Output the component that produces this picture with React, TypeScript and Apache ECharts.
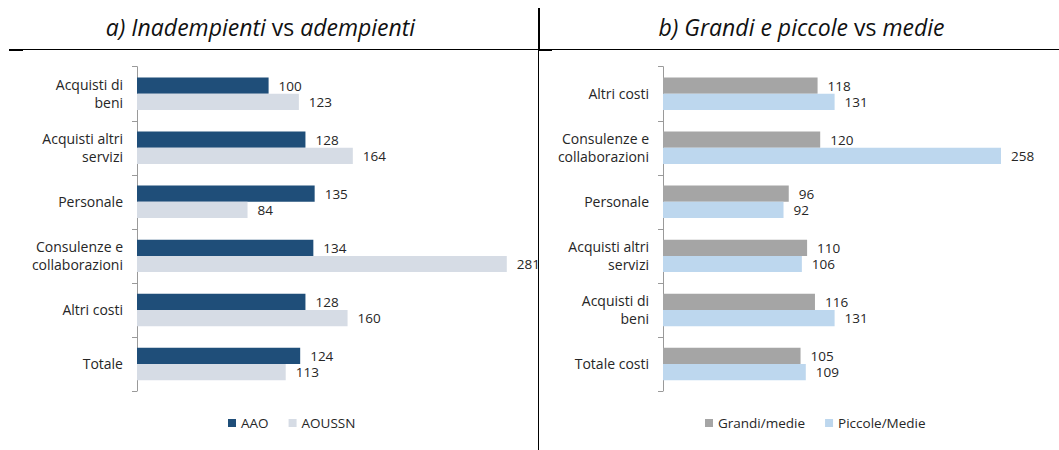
import React, { useEffect, useRef } from "react";
import * as echarts from "echarts";

const leftCategories = [
  "Acquisti di\nbeni",
  "Acquisti altri\nservizi",
  "Personale",
  "Consulenze e\ncollaborazioni",
  "Altri costi",
  "Totale",
];
const leftAAO = [100, 128, 135, 134, 128, 124];
const leftAOUSSN = [123, 164, 84, 281, 160, 113];

const rightCategories = [
  "Altri costi",
  "Consulenze e\ncollaborazioni",
  "Personale",
  "Acquisti altri\nservizi",
  "Acquisti di\nbeni",
  "Totale costi",
];
const rightGrandi = [118, 120, 96, 110, 116, 105];
const rightPiccole = [131, 258, 92, 106, 131, 109];

const FONT = "'Open Sans', sans-serif";
const TXT = "#262626";

type PanelCfg = {
  categories: string[];
  names: [string, string];
  values: [number[], number[]];
  colors: [string, string];
  gridLeft: number;
  gridWidth: number;
  legendLeft: number;
  titleX: number;
  title: string;
  graphics: any[];
};

function buildOption(c: PanelCfg): any {
  const mkSeries = (i: number) => ({
    type: "bar",
    name: c.names[i],
    data: c.values[i],
    barGap: "0%",
    barCategoryGap: "40%",
    itemStyle: { color: c.colors[i] },
    label: {
      show: true,
      position: "right",
      distance: 10,
      color: TXT,
      fontSize: 13.5,
      fontFamily: FONT,
    },
  });
  return {
    animation: false,
    grid: { left: c.gridLeft, top: 66.7, width: c.gridWidth, height: 324.3 },
    xAxis: { type: "value", min: 0, max: 300, show: false },
    yAxis: {
      type: "category",
      inverse: true,
      data: c.categories,
      axisLine: { show: true, lineStyle: { color: "#9a9a9a", width: 1 } },
      axisTick: { show: true, length: 5, lineStyle: { color: "#9a9a9a" } },
      splitLine: { show: false },
      axisLabel: {
        margin: 14,
        color: TXT,
        fontSize: 14,
        lineHeight: 18,
        fontFamily: FONT,
        align: "right",
      },
    },
    legend: {
      left: c.legendLeft,
      top: 411,
      icon: "rect",
      itemWidth: 8,
      itemHeight: 8,
      itemGap: 20,
      textStyle: { color: TXT, fontSize: 13.5, fontFamily: FONT },
      data: c.names,
    },
    series: [mkSeries(0), mkSeries(1)],
    graphic: [
      {
        type: "text",
        x: c.titleX,
        y: 27,
        style: {
          text: c.title,
          align: "center",
          verticalAlign: "middle",
          rich: {
            i: { fontStyle: "italic", fontSize: 23, fontFamily: FONT, fill: "#111" },
            n: { fontStyle: "normal", fontSize: 23, fontFamily: FONT, fill: "#111" },
          },
        },
      },
      ...c.graphics,
    ],
  };
}

function Panel({ cfg, left, width }: { cfg: PanelCfg; left: number; width: number }) {
  const ref = useRef<HTMLDivElement>(null);
  useEffect(() => {
    if (!ref.current) return;
    const chart = echarts.init(ref.current, undefined, { renderer: "svg" });
    chart.setOption(buildOption(cfg));
    return () => chart.dispose();
  }, []);
  return (
    <div
      ref={ref}
      style={{ position: "absolute", left, top: 0, width, height: 450, overflow: "hidden" }}
    />
  );
}

const leftCfg: PanelCfg = {
  categories: leftCategories,
  names: ["AAO", "AOUSSN"],
  values: [leftAAO, leftAOUSSN],
  colors: ["#1f4e79", "#d6dce5"],
  gridLeft: 137,
  gridWidth: 394.8,
  legendLeft: 223,
  titleX: 260.5,
  title: "{i|a) Inadempienti }{n|vs}{i| adempienti}",
  graphics: [
    { type: "line", shape: { x1: 9, y1: 49.5, x2: 538, y2: 49.5 }, style: { stroke: "#000", lineWidth: 1 } },
    { type: "line", shape: { x1: 9, y1: 50, x2: 23, y2: 50 }, style: { stroke: "#000", lineWidth: 2 } },
  ],
};

const rightCfg: PanelCfg = {
  categories: rightCategories,
  names: ["Grandi/medie", "Piccole/Medie"],
  values: [rightGrandi, rightPiccole],
  colors: ["#a5a5a5", "#bdd7ee"],
  gridLeft: 125,
  gridWidth: 393,
  legendLeft: 162,
  titleX: 263.5,
  title: "{i|b) Grandi e piccole }{n|vs}{i| medie}",
  graphics: [
    { type: "line", shape: { x1: 0, y1: 49.5, x2: 521, y2: 49.5 }, style: { stroke: "#000", lineWidth: 1 } },
    { type: "line", shape: { x1: 0, y1: 50, x2: 14, y2: 50 }, style: { stroke: "#000", lineWidth: 2 } },
    { type: "line", shape: { x1: 1, y1: 8, x2: 1, y2: 50 }, style: { stroke: "#000", lineWidth: 2 } },
    { type: "line", shape: { x1: 0.5, y1: 50, x2: 0.5, y2: 450 }, style: { stroke: "#000", lineWidth: 1 } },
  ],
};

export default function App() {
  return (
    <div style={{ position: "absolute", left: 0, top: 0, width: 1059, height: 450, background: "#fff" }}>
      <Panel cfg={leftCfg} left={0} width={550} />
      <Panel cfg={rightCfg} left={538} width={521} />
    </div>
  );
}
